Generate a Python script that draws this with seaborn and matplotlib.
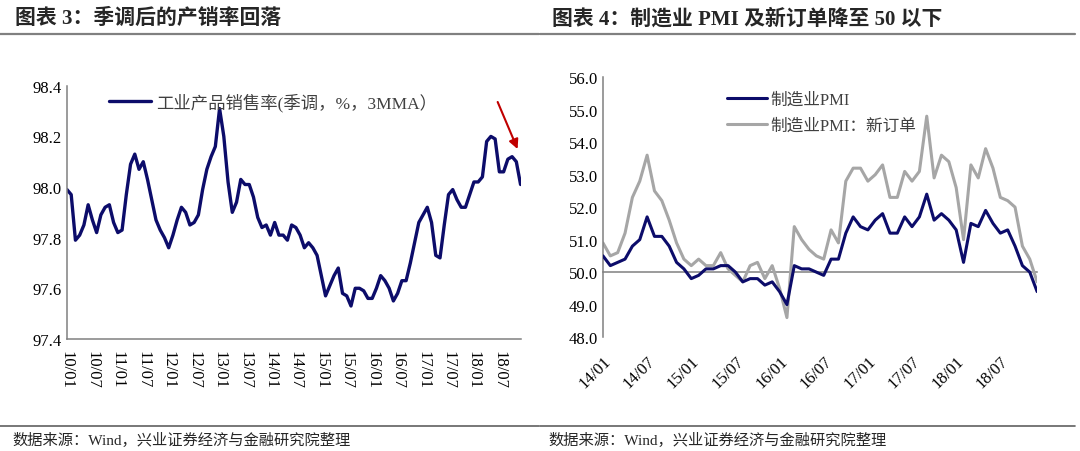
import pandas as pd
import matplotlib.pyplot as plt
import seaborn as sns
from matplotlib.lines import Line2D

# ---- data ----
sales_rate = [
    97.99, 97.97, 97.79, 97.81, 97.85, 97.93, 97.87, 97.82, 97.89, 97.92, 97.93, 97.86,
    97.82, 97.83, 97.97, 98.09, 98.13, 98.07, 98.10, 98.03, 97.95, 97.87, 97.83, 97.80,
    97.76, 97.81, 97.87, 97.92, 97.90, 97.85, 97.86, 97.89, 97.99, 98.07, 98.12, 98.16,
    98.31, 98.20, 98.02, 97.90, 97.94, 98.03, 98.01, 98.01, 97.96, 97.88, 97.84, 97.85,
    97.81, 97.86, 97.81, 97.81, 97.79, 97.85, 97.84, 97.81, 97.76, 97.78, 97.76, 97.73,
    97.65, 97.57, 97.61, 97.65, 97.68, 97.58, 97.57, 97.53, 97.60, 97.60, 97.59, 97.56,
    97.56, 97.60, 97.65, 97.63, 97.60, 97.55, 97.58, 97.63, 97.63, 97.70, 97.78, 97.86,
    97.89, 97.92, 97.86, 97.73, 97.72, 97.85, 97.97, 97.99, 97.95, 97.92, 97.92, 97.97,
    98.02, 98.02, 98.04, 98.18, 98.20, 98.19, 98.06, 98.06, 98.11, 98.12, 98.10, 98.01,
]
sales_start = "2010-01"

pmi = [
    50.5, 50.2, 50.3, 50.4, 50.8, 51.0, 51.7, 51.1, 51.1, 50.8, 50.3, 50.1,
    49.8, 49.9, 50.1, 50.1, 50.2, 50.2, 50.0, 49.7, 49.8, 49.8, 49.6, 49.7,
    49.4, 49.0, 50.2, 50.1, 50.1, 50.0, 49.9, 50.4, 50.4, 51.2, 51.7, 51.4,
    51.3, 51.6, 51.8, 51.2, 51.2, 51.7, 51.4, 51.7, 52.4, 51.6, 51.8, 51.6,
    51.3, 50.3, 51.5, 51.4, 51.9, 51.5, 51.2, 51.3, 50.8, 50.2, 50.0, 49.4,
]
pmi_new_orders = [
    50.9, 50.5, 50.6, 51.2, 52.3, 52.8, 53.6, 52.5, 52.2, 51.6, 50.9, 50.4,
    50.2, 50.4, 50.2, 50.2, 50.6, 50.1, 49.9, 49.7, 50.2, 50.3, 49.8, 50.2,
    49.5, 48.6, 51.4, 51.0, 50.7, 50.5, 50.4, 51.3, 50.9, 52.8, 53.2, 53.2,
    52.8, 53.0, 53.3, 52.3, 52.3, 53.1, 52.8, 53.1, 54.8, 52.9, 53.6, 53.4,
    52.6, 51.0, 53.3, 52.9, 53.8, 53.2, 52.3, 52.2, 52.0, 50.8, 50.4, 49.7,
]
pmi_start = "2014-01"

left_title = "图表 3：季调后的产销率回落"
right_title = "图表 4：制造业 PMI 及新订单降至 50 以下"
source_text = "数据来源：Wind，兴业证券经济与金融研究院整理"
sales_label = "工业产品销售率(季调，%，3MMA）"
pmi_label = "制造业PMI"
orders_label = "制造业PMI：新订单"

NAVY = "#0c0c6a"
GREY = "#a6a6a6"
AXIS = "#808080"
FONT = ["Liberation Serif", "Noto Sans CJK SC"]


def month_labels(start, n):
    months = pd.period_range(start, periods=n, freq="M")
    return [f"{m.year % 100:02d}/{m.month:02d}" for m in months]


def style_axes(ax):
    sns.despine(ax=ax)
    for side in ["left", "bottom"]:
        ax.spines[side].set_color(AXIS)
        ax.spines[side].set_linewidth(1.1)
    ax.tick_params(direction="in", length=4, width=1, color=AXIS,
                   labelsize=12, labelcolor="black")
    ax.set_xlabel("")
    ax.set_ylabel("")


sns.set_theme(style="white")
plt.rcParams["font.family"] = FONT
plt.rcParams["axes.unicode_minus"] = False

fig = plt.figure(figsize=(10.8, 4.52), dpi=100)
ax1 = fig.add_axes([0.062, 0.248, 0.420, 0.560])
ax2 = fig.add_axes([0.5583, 0.252, 0.402, 0.575])

# ---- left panel: sales rate ----
left_df = pd.DataFrame({
    "idx": range(len(sales_rate)),
    "value": sales_rate,
    "series": sales_label,
})
sns.lineplot(data=left_df, x="idx", y="value", hue="series",
             palette=[NAVY], linewidth=2.4, ax=ax1)
labels_l = month_labels(sales_start, len(sales_rate))
n_l = len(sales_rate)
ax1.set_xlim(0, n_l - 1)
ax1.set_ylim(97.4, 98.4)
ax1.set_yticks([97.4, 97.6, 97.8, 98.0, 98.2, 98.4])
ax1.set_yticklabels([f"{v:.1f}" for v in ax1.get_yticks()])
ticks_l = list(range(0, n_l, 6))
ax1.set_xticks(ticks_l + [n_l - 1])
ax1.set_xticklabels([labels_l[i] for i in ticks_l] + [""])
style_axes(ax1)
ax1.tick_params(axis="x", pad=8, labelrotation=270)
ax1.legend(loc="upper left", bbox_to_anchor=(0.058, 1.035), frameon=False,
           fontsize=12.5, handlelength=2.4, handletextpad=0.3, labelcolor="#404040")

# red arrow pointing at the latest fall
arrow_tail = (n_l - 6.4, 98.336)
arrow_head = (n_l - 1.7, 98.15)
ax1.annotate("", xy=arrow_head, xytext=arrow_tail,
             arrowprops=dict(arrowstyle="-|>", color="#c00000", lw=1.5,
                             mutation_scale=14, shrinkA=0, shrinkB=0))

# ---- right panel: PMI ----
n_r = len(pmi)
right_df = pd.DataFrame({
    "idx": list(range(n_r)) * 2,
    "value": pmi + pmi_new_orders,
    "series": [pmi_label] * n_r + [orders_label] * n_r,
})
sns.lineplot(data=right_df, x="idx", y="value", hue="series",
             palette=[NAVY, GREY], linewidth=2.2, ax=ax2)
# make the PMI line sit on top of the new-orders line
ax2.lines[0].set_zorder(3)
labels_r = month_labels(pmi_start, n_r)
ax2.set_xlim(0, n_r - 1)
ax2.set_ylim(48, 56)
ax2.set_yticks(range(48, 57))
ax2.set_yticklabels([f"{v:.1f}" for v in range(48, 57)])
style_axes(ax2)
# x axis runs along the 50 line; labels stay at the bottom
ax2.spines["bottom"].set_position(("data", 50))
ax2.spines["bottom"].set_zorder(1)
ticks_r = list(range(0, n_r, 6))
ax2.set_xticks(ticks_r)
ax2.set_xticklabels([labels_r[i] for i in ticks_r])
ax2.tick_params(axis="x", direction="in", length=4, width=1, color=AXIS,
                labelsize=12, pad=58, labelrotation=45)
for lbl in ax2.get_xticklabels():
    lbl.set_horizontalalignment("right")
    lbl.set_rotation_mode("anchor")
ax2.legend(loc="upper left", bbox_to_anchor=(0.25, 1.0), frameon=False,
           fontsize=12, handlelength=2.4, handletextpad=0.2, labelspacing=0.6,
           labelcolor="#404040")

# ---- titles, rules and source notes ----
fig.text(15 / 1080, 1 - 19 / 452, left_title, fontsize=15, fontweight="bold",
         va="center", ha="left", family=FONT)
fig.text(552 / 1080, 1 - 19 / 452, right_title, fontsize=15, fontweight="bold",
         va="center", ha="left", family=FONT)
for x0, x1 in [(0.0, 539 / 1080), (540 / 1080, 1075 / 1080)]:
    fig.add_artist(Line2D([x0, x1], [1 - 35 / 452] * 2, color=AXIS, lw=1.6))
    fig.add_artist(Line2D([x0, x1], [1 - 427 / 452] * 2, color="#606060", lw=1.2))
fig.text(12 / 1080, 1 - 440 / 452, source_text, fontsize=11, va="center",
         ha="left", family=FONT)
fig.text(548 / 1080, 1 - 440 / 452, source_text, fontsize=11, va="center",
         ha="left", family=FONT)

fig.savefig("out.png", dpi=100, facecolor="white")
